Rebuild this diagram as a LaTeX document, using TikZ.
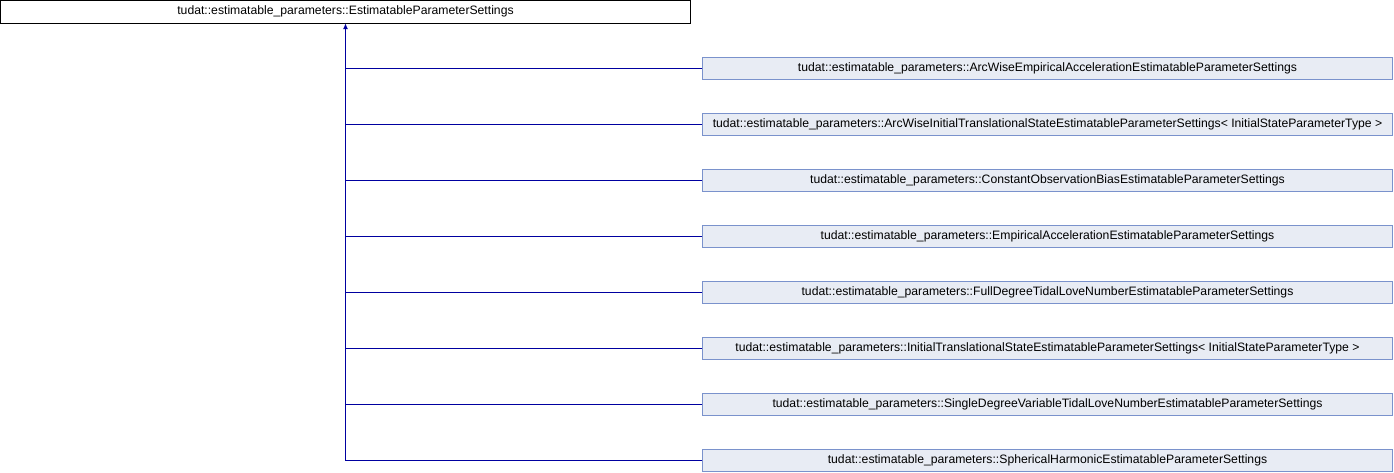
\documentclass[tikz,border=0pt]{standalone}
\usepackage{fontspec}
\setmainfont{Liberation Sans}
\usetikzlibrary{arrows.meta}
\definecolor{edgeblue}{RGB}{0,0,160}
\definecolor{boxfill}{RGB}{232,236,244}
\definecolor{boxline}{RGB}{122,146,204}
\tikzset{
  baseclass/.style={draw=black,fill=white,minimum width=690pt,minimum height=22.5pt,inner sep=0pt,font=\fontsize{12.2}{14}\selectfont},
  derived/.style={draw=boxline,fill=boxfill,minimum width=690pt,minimum height=22pt,inner sep=0pt,font=\fontsize{12.2}{14}\selectfont},
  inherit/.style={draw=edgeblue,line width=1pt}
}
\begin{document}
\begin{tikzpicture}[x=1pt,y=-1pt]
        \useasboundingbox (0,0) rectangle (1394,472);
        \node (base) at (345.5,11.75) [baseclass]{tudat::estimatable\_parameters::EstimatableParameterSettings};

        \node (arcacc) at (1047.5,68) [derived]{tudat::estimatable\_parameters::ArcWiseEmpiricalAccelerationEstimatableParameterSettings};
        \node (arcstate) at (1047.5,124) [derived]{tudat::estimatable\_parameters::ArcWiseInitialTranslationalStateEstimatableParameterSettings< InitialStateParameterType >};
        \node (bias) at (1047.5,180) [derived]{tudat::estimatable\_parameters::ConstantObservationBiasEstimatableParameterSettings};
        \node (empacc) at (1047.5,236) [derived]{tudat::estimatable\_parameters::EmpiricalAccelerationEstimatableParameterSettings};
        \node (fulltidal) at (1047.5,292) [derived]{tudat::estimatable\_parameters::FullDegreeTidalLoveNumberEstimatableParameterSettings};
        \node (initstate) at (1047.5,348) [derived]{tudat::estimatable\_parameters::InitialTranslationalStateEstimatableParameterSettings< InitialStateParameterType >};
        \node (singletidal) at (1047.5,404) [derived]{tudat::estimatable\_parameters::SingleDegreeVariableTidalLoveNumberEstimatableParameterSettings};
        \node (sphharm) at (1047.5,460) [derived]{tudat::estimatable\_parameters::SphericalHarmonicEstimatableParameterSettings};

        \draw [inherit,-{Latex[length=6pt,width=5pt]}](sphharm.west) -| (base.south);
        \foreach \c in {arcacc,arcstate,bias,empacc,fulltidal,initstate,singletidal}
            \draw [inherit](\c.west) -- (\c.west -| base.south);

    \end{tikzpicture}
\end{document}
